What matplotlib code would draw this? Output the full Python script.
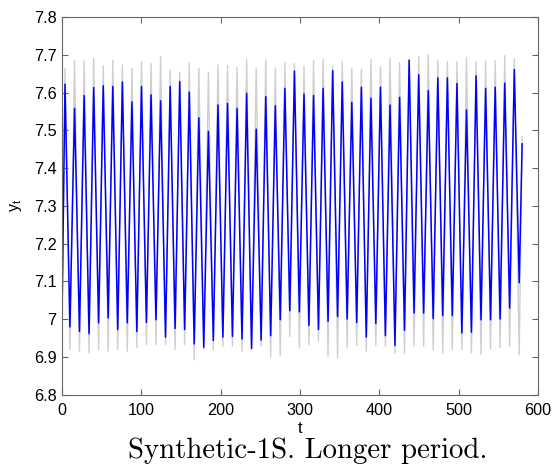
import numpy as np
import matplotlib
matplotlib.use('Agg')
import matplotlib.pyplot as plt

# peak / trough values per cycle
blue_peaks = [7.622, 7.558, 7.592, 7.613, 7.618, 7.616, 7.628, 7.575, 7.616, 7.594,
              7.578, 7.616, 7.629, 7.601, 7.533, 7.497, 7.567, 7.571, 7.558, 7.598,
              7.503, 7.589, 7.565, 7.611, 7.657, 7.596, 7.592, 7.611, 7.658, 7.628,
              7.574, 7.614, 7.585, 7.614, 7.567, 7.587, 7.686, 7.647, 7.605, 7.639,
              7.639, 7.624, 7.554, 7.644, 7.611, 7.614, 7.625, 7.661]
blue_troughs = [7.000, 6.979, 6.967, 6.961, 6.990, 7.003, 6.972, 6.990, 6.967, 6.991,
                6.998, 6.952, 6.975, 6.972, 6.934, 6.925, 6.943, 6.952, 6.954, 6.947,
                6.922, 6.944, 6.956, 6.998, 7.022, 7.019, 6.983, 6.972, 6.994, 7.007,
                7.000, 6.991, 6.952, 6.988, 6.956, 6.930, 6.970, 7.016, 7.016, 7.001,
                7.009, 7.009, 6.963, 6.965, 6.998, 6.998, 7.000, 7.029, 7.096]
gray_peaks = [7.664, 7.684, 7.684, 7.691, 7.671, 7.686, 7.673, 7.664, 7.682, 7.677,
              7.695, 7.660, 7.653, 7.677, 7.664, 7.653, 7.673, 7.671, 7.667, 7.688,
              7.664, 7.686, 7.664, 7.679, 7.677, 7.669, 7.684, 7.688, 7.670, 7.682,
              7.664, 7.662, 7.688, 7.669, 7.691, 7.679, 7.686, 7.695, 7.700, 7.686,
              7.682, 7.682, 7.693, 7.682, 7.684, 7.684, 7.698, 7.690]
gray_troughs = [6.935, 6.919, 6.915, 6.910, 6.919, 6.915, 6.919, 6.915, 6.924, 6.932,
                6.932, 6.932, 6.919, 6.932, 6.893, 6.919, 6.919, 6.928, 6.928, 6.915,
                6.919, 6.928, 6.900, 6.903, 6.954, 6.924, 6.932, 6.941, 6.901, 6.897,
                6.924, 6.930, 6.915, 6.930, 6.928, 6.910, 6.909, 6.928, 6.928, 6.919,
                6.910, 6.919, 6.918, 6.910, 6.906, 6.920, 6.924, 6.928, 6.905]
blue_end = 7.464
gray_end = 7.483

period = 12.05
t_end = 580


def build(peaks, troughs, end):
    n = len(peaks)
    t_p = 3.8 + period * np.arange(n)
    t_tr = np.concatenate([[0.0], 10.0 + period * np.arange(n)])
    t = [t_tr[0]]
    y = [troughs[0]]
    for k in range(n):
        t += [t_p[k], t_tr[k + 1]]
        y += [peaks[k], troughs[k + 1]]
    t.append(t_end)
    y.append(end)
    return np.array(t), np.array(y)


tg, yg = build(gray_peaks, gray_troughs, gray_end)
tb, yb = build(blue_peaks, blue_troughs, blue_end)

fig = plt.figure(figsize=(5.56, 4.70), dpi=100)
ax = fig.add_axes([0.1115, 0.1606, 0.8561, 0.8032])
ax.plot(tg, yg, color='#cfcfcf', lw=1.0)
ax.plot(tb, yb, color='#0000ff', lw=1.1)

ax.set_xlim(0, 600)
ax.set_ylim(6.8, 7.8)
ax.set_xticks(np.arange(0, 601, 100))
yt = np.round(np.arange(6.8, 7.81, 0.1), 1)
ax.set_yticks(yt)
ax.set_yticklabels(['%g' % v for v in yt])
ax.tick_params(direction='in', top=True, right=True, length=4, width=0.8,
               color='#666666', labelsize=11.7)
ax.tick_params(axis='y', pad=4)
ax.tick_params(axis='x', pad=6)
for lab in ax.get_xticklabels() + ax.get_yticklabels():
    lab.set_family('Liberation Sans')
for s in ax.spines.values():
    s.set_color('#666666')
    s.set_linewidth(0.8)

ax.set_xlabel('t', family='Liberation Sans', fontsize=11.7, labelpad=2)
ax.set_ylabel('$\\mathregular{y_t}$', family='Liberation Sans', fontsize=11.7,
              labelpad=7)

fig.text(0.230, 0.0255, 'Synthetic-1S. Longer period.', family='cmr10',
         fontsize=20.8, ha='left', va='baseline')

fig.savefig('out.png', dpi=100)
